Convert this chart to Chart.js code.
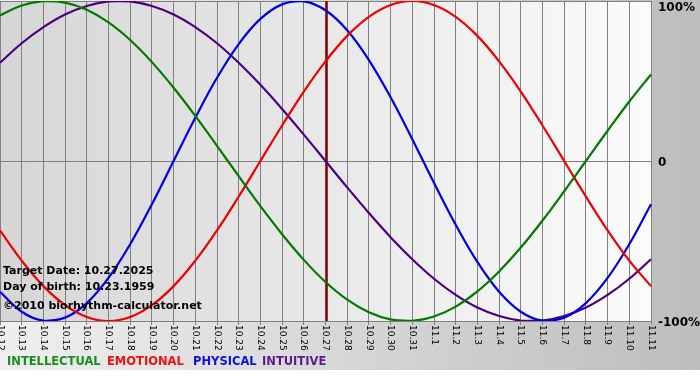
<!DOCTYPE html>
<html>
<head>
<meta charset="utf-8">
<script src="https://cdn.jsdelivr.net/npm/chart.js@4/dist/chart.umd.min.js"></script>
<style>
html,body{margin:0;padding:0;background:#fff;}
#wrap{width:700px;height:380px;position:relative;}
</style>
</head>
<body>
<div id="wrap"><canvas id="c" width="700" height="380"></canvas></div>
<script>
const dates = ['10.12','10.13','10.14','10.15','10.16','10.17','10.18','10.19','10.20','10.21','10.22','10.23','10.24','10.25','10.26','10.27','10.28','10.29','10.30','10.31','11.1','11.2','11.3','11.4','11.5','11.6','11.7','11.8','11.9','11.10','11.11'];
const intellectual = [0.910,0.972,0.999,0.990,0.945,0.866,0.756,0.618,0.458,0.282,0.095,-0.095,-0.282,-0.458,-0.618,-0.756,-0.866,-0.945,-0.990,-0.999,-0.972,-0.910,-0.815,-0.690,-0.541,-0.372,-0.189,0.000,0.189,0.372,0.541];
const emotional = [-0.434,-0.623,-0.782,-0.901,-0.975,-1.000,-0.975,-0.901,-0.782,-0.623,-0.434,-0.222,0.000,0.222,0.434,0.623,0.782,0.901,0.975,1.000,0.975,0.901,0.782,0.623,0.434,0.222,0.000,-0.222,-0.434,-0.623,-0.782];
const physical = [-0.817,-0.942,-0.998,-0.979,-0.888,-0.731,-0.520,-0.270,0.000,0.270,0.520,0.731,0.888,0.979,0.998,0.942,0.817,0.631,0.398,0.136,-0.136,-0.398,-0.631,-0.817,-0.942,-0.998,-0.979,-0.888,-0.731,-0.520,-0.270];
const intuitive = [0.614,0.736,0.837,0.916,0.969,0.997,0.997,0.969,0.916,0.837,0.736,0.614,0.476,0.325,0.165,0.000,-0.165,-0.325,-0.476,-0.614,-0.736,-0.837,-0.916,-0.969,-0.997,-0.997,-0.969,-0.916,-0.837,-0.736,-0.614];
const yTickValues = [1, 0, -1];
const yTickLabels = ['100%', '0', '-100%'];
const targetDate = '10.27';
const legendNames = ['INTELLECTUAL', 'EMOTIONAL', 'PHYSICAL', 'INTUITIVE'];
const infoLines = ['Target Date: 10.27.2025', 'Day of birth: 10.23.1959', '\u00A92010 biorhythm-calculator.net'];

const lineColors = ['#007a00', '#ee0000', '#0000e6', '#4b0082'];
const legendColors = ['#15901a', '#f01010', '#1010e0', '#5a1a8c'];
const seriesData = [intellectual, emotional, physical, intuitive];

const bgPlugin = {
  id: 'bio',
  beforeDraw(chart) {
    const ctx = chart.ctx, a = chart.chartArea;
    ctx.save();
    const g = ctx.createLinearGradient(0, 0, 700, 0);
    g.addColorStop(0, '#efefef');
    g.addColorStop(1, '#bdbdbd');
    ctx.fillStyle = g;
    ctx.fillRect(0, 0, 700, 370);
    ctx.fillStyle = '#ffffff';
    ctx.fillRect(0, 370, 700, 10);
    const g2 = ctx.createLinearGradient(a.left, 0, a.right, 0);
    g2.addColorStop(0, '#d6d6d6');
    g2.addColorStop(1, '#fbfbfb');
    ctx.fillStyle = g2;
    ctx.fillRect(a.left, a.top, a.right - a.left, a.bottom - a.top);
    ctx.restore();
  },
  beforeDatasetsDraw(chart) {
    const ctx = chart.ctx, a = chart.chartArea, xs = chart.scales.x;
    const x = Math.round(xs.getPixelForValue(dates.indexOf(targetDate))) + 0.5;
    ctx.save();
    ctx.strokeStyle = '#b82828';
    ctx.lineWidth = 3;
    ctx.beginPath(); ctx.moveTo(x, a.top); ctx.lineTo(x, a.bottom); ctx.stroke();
    ctx.strokeStyle = '#4a1414';
    ctx.lineWidth = 1;
    ctx.beginPath(); ctx.moveTo(x, a.top); ctx.lineTo(x, a.bottom); ctx.stroke();
    ctx.restore();
  },
  afterDraw(chart) {
    const ctx = chart.ctx, a = chart.chartArea, xs = chart.scales.x, ys = chart.scales.y;
    ctx.save();
    ctx.fillStyle = '#000';
    ctx.font = '9px "DejaVu Sans"';
    ctx.textAlign = 'left';
    ctx.textBaseline = 'middle';
    dates.forEach((d, i) => {
      const x = xs.getPixelForValue(i);
      ctx.save();
      ctx.translate(x, a.bottom + 4);
      ctx.rotate(Math.PI / 2);
      ctx.fillText(d, 0, 0);
      ctx.restore();
    });
    ctx.font = 'bold 12px "DejaVu Sans"';
    yTickValues.forEach((v, i) => {
      let y = ys.getPixelForValue(v) + 1.5;
      if (y < 7.5) y = 7.5;
      ctx.fillText(yTickLabels[i], a.right + 7, y);
    });
    ctx.font = 'bold 11px "DejaVu Sans"';
    const infoY = [271, 287, 306];
    infoLines.forEach((t, i) => ctx.fillText(t, 3, infoY[i]));
    ctx.font = 'bold 11.5px "DejaVu Sans"';
    const legX = [7, 107, 193, 262];
    legendNames.forEach((n, i) => {
      ctx.fillStyle = legendColors[i];
      ctx.fillText(n, legX[i], 362);
    });
    ctx.restore();
  }
};

new Chart(document.getElementById('c'), {
  type: 'line',
  data: {
    labels: dates,
    datasets: legendNames.map((n, i) => ({
      label: n,
      data: seriesData[i],
      borderColor: lineColors[i],
      borderWidth: 2.2,
      pointRadius: 0,
      tension: 0.4,
      fill: false
    }))
  },
  options: {
    responsive: false,
    animation: false,
    events: [],
    layout: { padding: { left: 0, right: 49, top: 1, bottom: 55 } },
    plugins: { legend: { display: false }, tooltip: { enabled: false } },
    scales: {
      x: {
        offset: false,
        grid: { color: '#808080', lineWidth: 1, drawTicks: true, tickLength: 4 },
        border: { display: true, color: '#808080' },
        ticks: { display: false, autoSkip: false }
      },
      y: {
        position: 'right',
        min: -1, max: 1,
        grid: { color: '#808080', lineWidth: 1, drawTicks: false },
        border: { display: false },
        ticks: { display: false, stepSize: 1 }
      }
    }
  },
  plugins: [bgPlugin]
});
</script>
</body>
</html>
